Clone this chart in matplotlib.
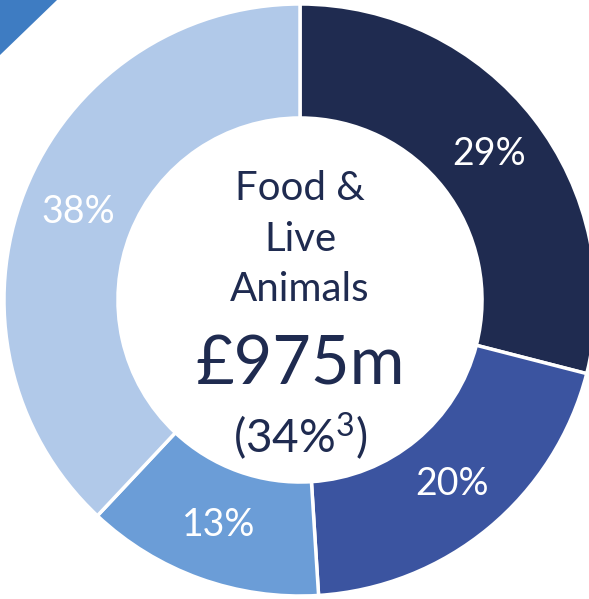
import matplotlib
matplotlib.use("Agg")
import matplotlib.pyplot as plt
from matplotlib.patches import Polygon

plt.rcParams['font.family'] = ['Lato', 'DejaVu Sans']
plt.rcParams['mathtext.fontset'] = 'custom'
plt.rcParams['mathtext.rm'] = 'Lato'
plt.rcParams['mathtext.it'] = 'Lato'
plt.rcParams['mathtext.bf'] = 'Lato'

shares = [29, 20, 13, 38]
labels = ["29%", "20%", "13%", "38%"]
colors = ["#1F2B50", "#3B54A0", "#6B9DD7", "#B1C9E9"]
title_lines = "Food &\nLive\nAnimals"
total = "£975m"
share_note = "(34%$^{\\mathrm{3}}$)"

W, H = 589, 599
fig = plt.figure(figsize=(W / 100, H / 100), dpi=100)
ax = fig.add_axes([0, 0, 1, 1])
R = 296.0
cx, cy = 300.0, 300.0

inner = 0.615
wedges, texts = ax.pie(shares, colors=colors, startangle=90, counterclock=False,
                       radius=1.0, labels=labels, labeldistance=(1 + inner) / 2,
                       wedgeprops=dict(width=1 - inner, edgecolor='white', linewidth=2.5),
                       textprops=dict(color='white', fontsize=27, ha='center', va='center'))
for t in texts:
    t.set_ha('center')
    t.set_va('center')

ax.set_xlim(-cx / R, (W - cx) / R)
ax.set_ylim(-(H - cy) / R, cy / R)
ax.set_aspect('equal')
ax.axis('off')

navy = "#1F2B50"
ax.text(0, (300 - 239) / R, title_lines, ha='center', va='center', fontsize=29,
        color=navy, linespacing=1.45)
ax.text(0, (300 - 365) / R, total, ha='center', va='center', fontsize=48, color=navy)
ax.text(0, (300 - 437) / R, share_note, ha='center', va='center', fontsize=33, color=navy)

tri = Polygon([(0, 1), (57 / W, 1), (0, 1 - 55 / H)], closed=True,
              transform=fig.transFigure, facecolor="#3E7CC2", edgecolor='none')
fig.patches.append(tri)

fig.savefig("out.png", dpi=100)
